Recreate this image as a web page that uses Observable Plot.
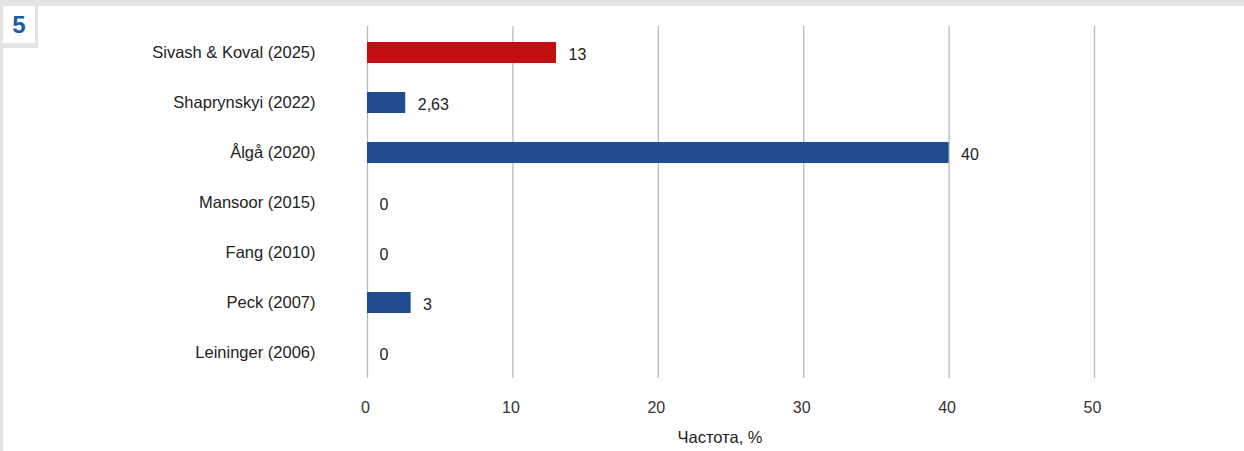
<!DOCTYPE html>
<html>
<head>
<meta charset="utf-8">
<script src="https://cdn.jsdelivr.net/npm/d3@7"></script>
<script src="https://cdn.jsdelivr.net/npm/@observablehq/plot@0.6"></script>
<style>
  html, body { margin: 0; padding: 0; }
  body { width: 1244px; height: 451px; background: #e3e3e1; position: relative; overflow: hidden; font-family: "Liberation Sans", Arial, sans-serif; }
  #panel { position: absolute; left: 3px; top: 6px; right: 0; bottom: 0; background: #ffffff; }
  #badgeGap { position: absolute; left: 3px; top: 6px; width: 35px; height: 42px; background: #e3e3e1; }
  #badge { position: absolute; left: 3px; top: 6px; width: 32px; height: 37px; background: #ffffff; color: #1a5c9e; font-weight: bold; font-size: 24px; line-height: 37px; text-align: center; font-family: "Liberation Sans", Arial, sans-serif; }
  #chart { position: absolute; left: 0; top: 0; }
</style>
</head>
<body>
<div id="panel"></div>
<div id="badgeGap"></div>
<div id="badge">5</div>
<div id="chart"></div>
<script>
const categories = ["Sivash & Koval (2025)", "Shaprynskyi (2022)", "Ålgå (2020)", "Mansoor (2015)", "Fang (2010)", "Peck (2007)", "Leininger (2006)"];
const values = [13, 2.63, 40, 0, 0, 3, 0];
const valueLabels = ["13", "2,63", "40", "0", "0", "3", "0"];
const highlighted = [true, false, false, false, false, false, false];
const xTicks = [0, 10, 20, 30, 40, 50];
const xTitle = "Частота, %";

const data = categories.map((c, i) => ({cat: c, v: values[i], lab: valueLabels[i], hi: highlighted[i]}));

const plot = Plot.plot({
  width: 1244,
  height: 451,
  marginLeft: 367,
  marginRight: 150,
  marginTop: 26,
  marginBottom: 73,
  style: {background: "transparent", fontFamily: "'Liberation Sans', Arial, sans-serif"},
  x: {domain: [0, 50], ticks: xTicks},
  y: {domain: categories, paddingInner: 0.58, paddingOuter: 0.29, align: 0.5},
  marks: [
    Plot.ruleX(xTicks, {stroke: "#b9b9b9", strokeWidth: 1.3, strokeOpacity: 1}),
    Plot.barX(data, {x: "v", y: "cat", fill: d => d.hi ? "#c20e11" : "#1f4d8f"}),
    Plot.text(data, {x: "v", y: "cat", text: "lab", textAnchor: "start", dx: 12, dy: 2, fontSize: 16, fill: "#222"}),
    Plot.axisY({tickSize: 0, tickPadding: 52, fontSize: 16.5, label: null, color: "#222"}),
    Plot.axisX({ticks: xTicks, tickSize: 0, tickPadding: 23, dx: -2, fontSize: 16, color: "#333", label: null}),
    Plot.text([xTitle], {text: d => d, frameAnchor: "bottom", dx: -11, dy: 59, lineAnchor: "middle", fontSize: 16.5, fill: "#222"})
  ]
});
document.getElementById("chart").appendChild(plot);
</script>
</body>
</html>
